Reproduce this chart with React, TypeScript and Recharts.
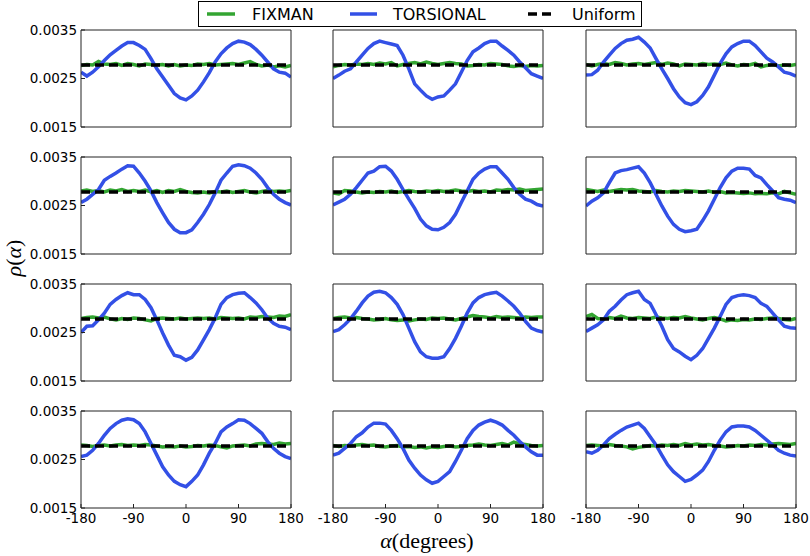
import React from 'react';
import { LineChart, Line, XAxis, YAxis, ReferenceLine } from 'recharts';

// sample angles (degrees)
const ANGLES = [-180, -170, -160, -150, -140, -130, -120, -110, -100, -90, -80, -70, -60, -50, -40, -30, -20, -10, 0, 10, 20, 30, 40, 50, 60, 70, 80, 90, 100, 110, 120, 130, 140, 150, 160, 170, 180];
const X_TICKS = [-180, -90, 0, 90, 180];
const Y_TICKS = [0.0015, 0.0025, 0.0035];
const UNIFORM = 1 / 360;

// TORSIONAL, one array per panel (row, col)
const T11 = [0.00263, 0.00255, 0.00263, 0.00274, 0.00287, 0.00299, 0.00308, 0.00317, 0.00324, 0.00324, 0.00318, 0.00310, 0.00291, 0.00270, 0.00253, 0.00236, 0.00219, 0.00210, 0.00206, 0.00214, 0.00226, 0.00243, 0.00262, 0.00284, 0.00301, 0.00313, 0.00322, 0.00327, 0.00325, 0.00320, 0.00310, 0.00298, 0.00284, 0.00270, 0.00263, 0.00261, 0.00253];
const T12 = [0.00250, 0.00257, 0.00265, 0.00270, 0.00284, 0.00298, 0.00312, 0.00322, 0.00327, 0.00324, 0.00321, 0.00318, 0.00298, 0.00270, 0.00239, 0.00226, 0.00214, 0.00207, 0.00212, 0.00214, 0.00226, 0.00239, 0.00263, 0.00287, 0.00305, 0.00313, 0.00322, 0.00327, 0.00327, 0.00317, 0.00308, 0.00298, 0.00284, 0.00272, 0.00260, 0.00255, 0.00250];
const T13 = [0.00257, 0.00258, 0.00267, 0.00284, 0.00298, 0.00312, 0.00322, 0.00329, 0.00331, 0.00335, 0.00325, 0.00313, 0.00291, 0.00270, 0.00250, 0.00229, 0.00212, 0.00200, 0.00196, 0.00202, 0.00215, 0.00233, 0.00257, 0.00281, 0.00301, 0.00315, 0.00322, 0.00327, 0.00327, 0.00318, 0.00305, 0.00292, 0.00284, 0.00274, 0.00263, 0.00260, 0.00255];
const T21 = [0.00256, 0.00263, 0.00273, 0.00283, 0.00302, 0.00310, 0.00317, 0.00325, 0.00332, 0.00331, 0.00317, 0.00300, 0.00280, 0.00256, 0.00235, 0.00215, 0.00201, 0.00194, 0.00194, 0.00200, 0.00215, 0.00232, 0.00252, 0.00276, 0.00302, 0.00317, 0.00331, 0.00334, 0.00332, 0.00327, 0.00317, 0.00304, 0.00287, 0.00273, 0.00263, 0.00256, 0.00251];
const T22 = [0.00251, 0.00257, 0.00263, 0.00273, 0.00287, 0.00302, 0.00317, 0.00321, 0.00330, 0.00331, 0.00321, 0.00304, 0.00283, 0.00263, 0.00244, 0.00222, 0.00208, 0.00201, 0.00200, 0.00205, 0.00215, 0.00232, 0.00256, 0.00280, 0.00304, 0.00317, 0.00325, 0.00330, 0.00330, 0.00317, 0.00304, 0.00287, 0.00273, 0.00263, 0.00259, 0.00252, 0.00249];
const T23 = [0.00249, 0.00259, 0.00266, 0.00276, 0.00297, 0.00317, 0.00322, 0.00324, 0.00327, 0.00330, 0.00317, 0.00297, 0.00273, 0.00249, 0.00228, 0.00211, 0.00201, 0.00196, 0.00198, 0.00201, 0.00219, 0.00239, 0.00263, 0.00287, 0.00307, 0.00321, 0.00327, 0.00327, 0.00325, 0.00312, 0.00307, 0.00293, 0.00280, 0.00266, 0.00263, 0.00261, 0.00256];
const T31 = [0.00250, 0.00263, 0.00264, 0.00276, 0.00290, 0.00308, 0.00318, 0.00326, 0.00332, 0.00328, 0.00328, 0.00318, 0.00301, 0.00276, 0.00249, 0.00224, 0.00203, 0.00200, 0.00193, 0.00199, 0.00214, 0.00235, 0.00256, 0.00280, 0.00308, 0.00322, 0.00328, 0.00331, 0.00332, 0.00322, 0.00311, 0.00297, 0.00280, 0.00269, 0.00263, 0.00261, 0.00256];
const T32 = [0.00252, 0.00256, 0.00266, 0.00278, 0.00294, 0.00311, 0.00325, 0.00333, 0.00335, 0.00332, 0.00322, 0.00308, 0.00287, 0.00259, 0.00231, 0.00210, 0.00200, 0.00197, 0.00197, 0.00200, 0.00217, 0.00238, 0.00263, 0.00290, 0.00311, 0.00322, 0.00328, 0.00331, 0.00333, 0.00325, 0.00315, 0.00304, 0.00290, 0.00273, 0.00259, 0.00254, 0.00251];
const T33 = [0.00252, 0.00259, 0.00266, 0.00276, 0.00294, 0.00304, 0.00317, 0.00328, 0.00332, 0.00335, 0.00318, 0.00310, 0.00287, 0.00263, 0.00235, 0.00217, 0.00210, 0.00201, 0.00194, 0.00203, 0.00217, 0.00238, 0.00259, 0.00283, 0.00308, 0.00322, 0.00326, 0.00328, 0.00326, 0.00322, 0.00310, 0.00304, 0.00290, 0.00276, 0.00263, 0.00260, 0.00259];
const T41 = [0.00256, 0.00259, 0.00269, 0.00283, 0.00300, 0.00314, 0.00324, 0.00331, 0.00334, 0.00332, 0.00324, 0.00307, 0.00283, 0.00259, 0.00235, 0.00218, 0.00205, 0.00198, 0.00194, 0.00205, 0.00218, 0.00239, 0.00263, 0.00283, 0.00307, 0.00317, 0.00324, 0.00332, 0.00331, 0.00324, 0.00314, 0.00304, 0.00287, 0.00273, 0.00263, 0.00256, 0.00252];
const T42 = [0.00259, 0.00263, 0.00273, 0.00283, 0.00297, 0.00305, 0.00317, 0.00325, 0.00325, 0.00323, 0.00310, 0.00293, 0.00273, 0.00249, 0.00232, 0.00218, 0.00208, 0.00201, 0.00205, 0.00215, 0.00225, 0.00246, 0.00269, 0.00293, 0.00310, 0.00321, 0.00327, 0.00331, 0.00327, 0.00321, 0.00310, 0.00300, 0.00287, 0.00276, 0.00266, 0.00259, 0.00259];
const T43 = [0.00266, 0.00263, 0.00269, 0.00280, 0.00293, 0.00302, 0.00310, 0.00317, 0.00321, 0.00325, 0.00314, 0.00297, 0.00280, 0.00259, 0.00239, 0.00225, 0.00215, 0.00205, 0.00209, 0.00218, 0.00228, 0.00246, 0.00269, 0.00290, 0.00307, 0.00317, 0.00319, 0.00319, 0.00317, 0.00310, 0.00300, 0.00290, 0.00280, 0.00269, 0.00263, 0.00259, 0.00257];

// FIXMAN, one array per panel
const F11 = [0.00277, 0.00279, 0.00278, 0.00285, 0.00280, 0.00279, 0.00281, 0.00277, 0.00281, 0.00279, 0.00276, 0.00280, 0.00279, 0.00278, 0.00279, 0.00276, 0.00279, 0.00276, 0.00278, 0.00277, 0.00280, 0.00279, 0.00281, 0.00278, 0.00279, 0.00280, 0.00281, 0.00279, 0.00282, 0.00285, 0.00279, 0.00276, 0.00278, 0.00274, 0.00276, 0.00274, 0.00277];
const F12 = [0.00274, 0.00277, 0.00279, 0.00278, 0.00280, 0.00279, 0.00281, 0.00279, 0.00282, 0.00280, 0.00283, 0.00276, 0.00279, 0.00281, 0.00283, 0.00280, 0.00284, 0.00281, 0.00279, 0.00281, 0.00283, 0.00281, 0.00280, 0.00276, 0.00277, 0.00279, 0.00278, 0.00281, 0.00280, 0.00279, 0.00276, 0.00275, 0.00277, 0.00275, 0.00277, 0.00276, 0.00277];
const F13 = [0.00279, 0.00276, 0.00279, 0.00281, 0.00279, 0.00283, 0.00281, 0.00278, 0.00280, 0.00281, 0.00279, 0.00281, 0.00283, 0.00279, 0.00282, 0.00280, 0.00276, 0.00280, 0.00279, 0.00278, 0.00281, 0.00279, 0.00280, 0.00279, 0.00282, 0.00278, 0.00276, 0.00279, 0.00278, 0.00281, 0.00274, 0.00277, 0.00279, 0.00276, 0.00278, 0.00277, 0.00279];
const F21 = [0.00280, 0.00282, 0.00279, 0.00281, 0.00278, 0.00282, 0.00280, 0.00283, 0.00279, 0.00281, 0.00279, 0.00282, 0.00278, 0.00281, 0.00277, 0.00281, 0.00279, 0.00283, 0.00279, 0.00277, 0.00276, 0.00278, 0.00276, 0.00279, 0.00278, 0.00280, 0.00277, 0.00279, 0.00281, 0.00278, 0.00276, 0.00279, 0.00281, 0.00279, 0.00280, 0.00279, 0.00281];
const F22 = [0.00276, 0.00274, 0.00281, 0.00280, 0.00278, 0.00276, 0.00278, 0.00277, 0.00279, 0.00278, 0.00280, 0.00277, 0.00279, 0.00281, 0.00279, 0.00278, 0.00280, 0.00279, 0.00281, 0.00279, 0.00280, 0.00282, 0.00280, 0.00279, 0.00281, 0.00279, 0.00280, 0.00278, 0.00282, 0.00281, 0.00283, 0.00282, 0.00284, 0.00281, 0.00282, 0.00283, 0.00284];
const F23 = [0.00283, 0.00281, 0.00279, 0.00282, 0.00279, 0.00281, 0.00283, 0.00282, 0.00283, 0.00280, 0.00279, 0.00278, 0.00281, 0.00279, 0.00278, 0.00280, 0.00279, 0.00281, 0.00280, 0.00279, 0.00278, 0.00280, 0.00277, 0.00279, 0.00276, 0.00277, 0.00276, 0.00275, 0.00276, 0.00274, 0.00275, 0.00274, 0.00276, 0.00274, 0.00279, 0.00276, 0.00273];
const F31 = [0.00279, 0.00281, 0.00282, 0.00280, 0.00282, 0.00278, 0.00276, 0.00279, 0.00277, 0.00280, 0.00279, 0.00276, 0.00274, 0.00279, 0.00280, 0.00279, 0.00278, 0.00280, 0.00278, 0.00279, 0.00280, 0.00279, 0.00280, 0.00278, 0.00281, 0.00280, 0.00279, 0.00280, 0.00278, 0.00282, 0.00281, 0.00283, 0.00282, 0.00281, 0.00284, 0.00283, 0.00287];
const F32 = [0.00279, 0.00281, 0.00282, 0.00280, 0.00281, 0.00279, 0.00278, 0.00276, 0.00277, 0.00279, 0.00276, 0.00275, 0.00276, 0.00274, 0.00276, 0.00278, 0.00277, 0.00280, 0.00279, 0.00280, 0.00278, 0.00276, 0.00279, 0.00282, 0.00285, 0.00283, 0.00282, 0.00280, 0.00283, 0.00281, 0.00282, 0.00281, 0.00280, 0.00282, 0.00281, 0.00282, 0.00282];
const F33 = [0.00283, 0.00287, 0.00279, 0.00278, 0.00281, 0.00279, 0.00284, 0.00280, 0.00279, 0.00281, 0.00280, 0.00279, 0.00282, 0.00280, 0.00279, 0.00281, 0.00280, 0.00283, 0.00280, 0.00278, 0.00276, 0.00279, 0.00281, 0.00278, 0.00274, 0.00276, 0.00275, 0.00277, 0.00276, 0.00278, 0.00277, 0.00279, 0.00280, 0.00279, 0.00277, 0.00276, 0.00279];
const F41 = [0.00280, 0.00279, 0.00277, 0.00279, 0.00280, 0.00278, 0.00280, 0.00281, 0.00279, 0.00280, 0.00279, 0.00281, 0.00280, 0.00278, 0.00276, 0.00277, 0.00276, 0.00278, 0.00276, 0.00277, 0.00279, 0.00278, 0.00280, 0.00279, 0.00276, 0.00274, 0.00278, 0.00279, 0.00280, 0.00278, 0.00282, 0.00283, 0.00282, 0.00281, 0.00284, 0.00282, 0.00283];
const F42 = [0.00279, 0.00277, 0.00279, 0.00278, 0.00280, 0.00281, 0.00279, 0.00280, 0.00277, 0.00276, 0.00278, 0.00279, 0.00276, 0.00277, 0.00275, 0.00276, 0.00274, 0.00276, 0.00275, 0.00277, 0.00278, 0.00276, 0.00277, 0.00279, 0.00280, 0.00282, 0.00280, 0.00279, 0.00281, 0.00283, 0.00280, 0.00286, 0.00282, 0.00281, 0.00279, 0.00278, 0.00279];
const F43 = [0.00279, 0.00280, 0.00279, 0.00278, 0.00281, 0.00279, 0.00278, 0.00276, 0.00272, 0.00275, 0.00277, 0.00279, 0.00278, 0.00280, 0.00279, 0.00281, 0.00279, 0.00283, 0.00280, 0.00282, 0.00280, 0.00281, 0.00279, 0.00278, 0.00276, 0.00277, 0.00279, 0.00278, 0.00280, 0.00279, 0.00281, 0.00280, 0.00282, 0.00283, 0.00282, 0.00281, 0.00283];

const TORSIONAL = [[T11, T12, T13], [T21, T22, T23], [T31, T32, T33], [T41, T42, T43]];
const FIXMAN = [[F11, F12, F13], [F21, F22, F23], [F31, F32, F33], [F41, F42, F43]];

const GREEN = '#33a532';
const BLUE = '#3350e6';
const FRAME = '#222';
const FONT = 'DejaVu Sans, sans-serif';

const PLOT_LEFT = [81, 333, 586];
const PLOT_TOP = [30, 157, 284, 411];
const PW = 210;
const PH = 97;
const M = { top: 10, right: 18, bottom: 10, left: 18 };

function Panel({ row, col }: { row: number; col: number }) {
  const showY = col === 0;
  const showX = row === 3;
  // axes keep a 1px slot when they carry no labels so the frame is still drawn
  const yW = showY ? 70 : 1;
  const xH = showX ? 22 : 1;
  const data = ANGLES.map((a, i) => ({
    a,
    fixman: FIXMAN[row][col][i],
    torsional: TORSIONAL[row][col][i],
  }));
  const tickStyle = { fill: '#000', fontSize: 13.5, fontFamily: FONT };

  return (
    <div style={{ position: 'absolute', left: PLOT_LEFT[col] - yW - M.left, top: PLOT_TOP[row] - 1 - M.top }}>
      <LineChart
        width={M.left + yW + PW + 1 + M.right}
        height={M.top + 1 + PH + xH + M.bottom}
        data={data}
        margin={M}
      >
        <XAxis
          dataKey="a"
          type="number"
          domain={[-180, 180]}
          ticks={X_TICKS}
          interval={0}
          height={xH}
          tick={showX ? tickStyle : false}
          tickSize={-4}
          tickMargin={9}
          stroke={FRAME}
          allowDataOverflow
        />
        <YAxis
          type="number"
          domain={[0.0015, 0.0035]}
          ticks={Y_TICKS}
          interval={0}
          width={yW}
          tick={showY ? tickStyle : false}
          tickSize={-4}
          tickMargin={8}
          tickFormatter={(v: number) => v.toFixed(4)}
          stroke={FRAME}
          allowDataOverflow
        />
        <XAxis
          xAxisId="top"
          orientation="top"
          dataKey="a"
          type="number"
          domain={[-180, 180]}
          ticks={X_TICKS}
          interval={0}
          height={1}
          tick={false}
          tickSize={-4}
          stroke={FRAME}
          allowDataOverflow
        />
        <YAxis
          yAxisId="right"
          orientation="right"
          type="number"
          domain={[0.0015, 0.0035]}
          ticks={Y_TICKS}
          interval={0}
          width={1}
          tick={false}
          tickSize={-4}
          stroke={FRAME}
          allowDataOverflow
        />
        <Line dataKey="fixman" stroke={GREEN} strokeWidth={3.5} dot={false} isAnimationActive={false} />
        <Line dataKey="torsional" stroke={BLUE} strokeWidth={3.5} dot={false} isAnimationActive={false} />
        <ReferenceLine y={UNIFORM} stroke="#000" strokeWidth={3.5} strokeDasharray="9 5" />
      </LineChart>
    </div>
  );
}

export default function App() {
  return (
    <div style={{ position: 'absolute', left: 0, top: 0, width: 810, height: 556, background: '#fff' }}>
      {PLOT_TOP.map((_, r) => PLOT_LEFT.map((_, c) => <Panel key={`${r}-${c}`} row={r} col={c} />))}
      <svg width={810} height={556} style={{ position: 'absolute', left: 0, top: 0, pointerEvents: 'none' }}>
        {/* legend */}
        <rect x={198.5} y={1.5} width={443} height={25} fill="#fff" stroke="#000" strokeWidth={1} />
        <line x1={207} y1={14} x2={235} y2={14} stroke={GREEN} strokeWidth={3.5} />
        <text x={252} y={19.5} fontSize={16} fontFamily={FONT} fill="#000">FIXMAN</text>
        <line x1={350} y1={14} x2={377} y2={14} stroke={BLUE} strokeWidth={3.5} />
        <text x={393} y={19.5} fontSize={16} fontFamily={FONT} fill="#000">TORSIONAL</text>
        <line x1={528} y1={14} x2={553} y2={14} stroke="#000" strokeWidth={3.5} strokeDasharray="9 5" />
        <text x={572} y={19.5} fontSize={16} fontFamily={FONT} fill="#000">Uniform</text>
        {/* axis titles */}
        <text x={427} y={548} fontSize={22} fontFamily="Liberation Serif, serif" textAnchor="middle" fill="#000">
          <tspan fontStyle="italic">α</tspan>(degrees)
        </text>
        <text
          x={0}
          y={0}
          transform="translate(21 258) rotate(-90)"
          fontSize={22}
          fontFamily="Liberation Serif, serif"
          textAnchor="middle"
          fill="#000"
        >
          <tspan fontStyle="italic">ρ</tspan>(<tspan fontStyle="italic">α</tspan>)
        </text>
      </svg>
    </div>
  );
}
